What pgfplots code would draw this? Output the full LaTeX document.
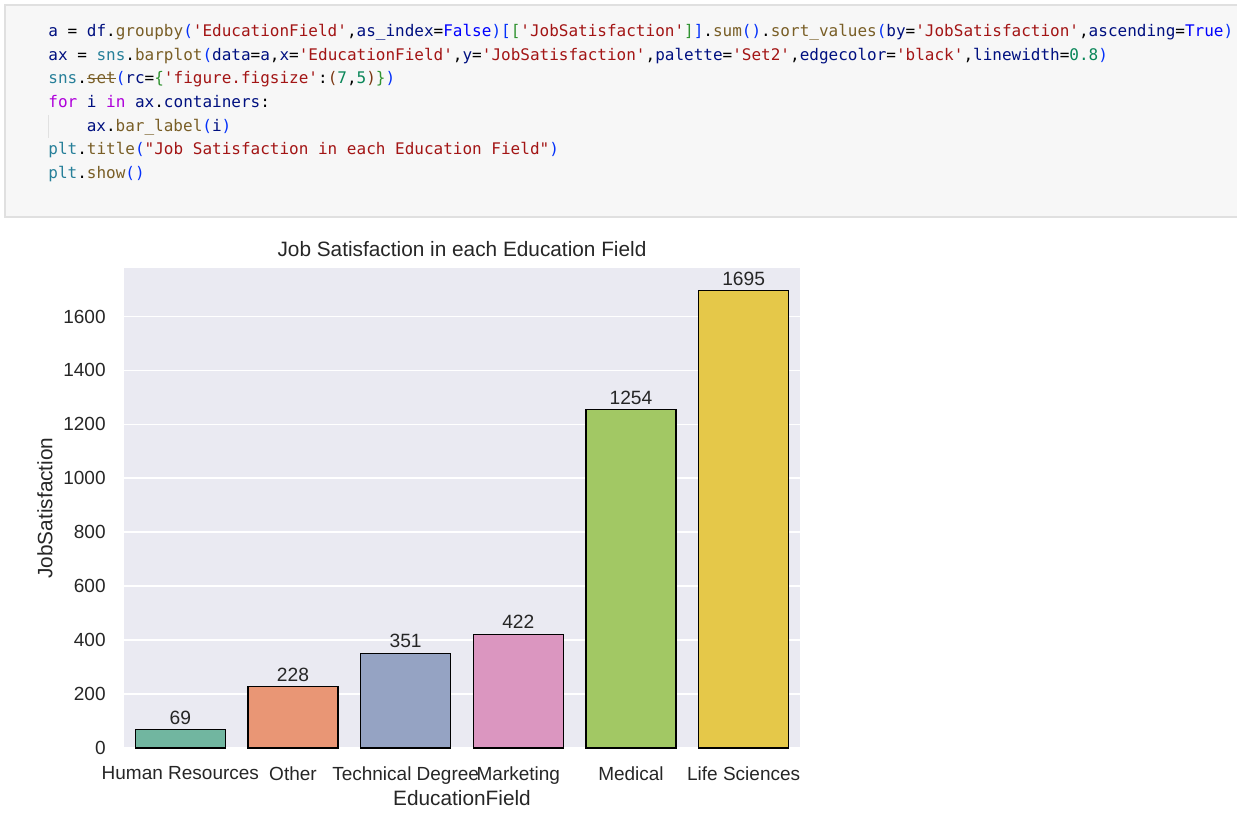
\documentclass[border=0pt]{standalone}
\usepackage{fontspec}
\setmainfont{Liberation Sans}
\setmonofont{DejaVu Sans Mono}
\usepackage{pgfplots}
\pgfplotsset{compat=1.18}
\definecolor{cfn}{HTML}{795E26}
\definecolor{cvar}{HTML}{001080}
\definecolor{cstr}{HTML}{A31515}
\definecolor{ckw}{HTML}{AF00DB}
\definecolor{cconst}{HTML}{0000FF}
\definecolor{cnum}{HTML}{098658}
\definecolor{ccls}{HTML}{267F99}
\definecolor{bA}{HTML}{0431FA}
\definecolor{bB}{HTML}{319331}
\definecolor{bC}{HTML}{7B3814}
\definecolor{codebg}{HTML}{F7F7F7}
\definecolor{codeborder}{HTML}{E0E0E0}
\definecolor{bgc}{HTML}{EAEAF2}
\definecolor{tc}{HTML}{262626}
\definecolor{c1}{HTML}{71B6A0}
\definecolor{c2}{HTML}{E99675}
\definecolor{c3}{HTML}{95A3C3}
\definecolor{c4}{HTML}{DB96C0}
\definecolor{c5}{HTML}{A2C864}
\definecolor{c6}{HTML}{E5C849}
\newcommand\V[1]{\textcolor{cvar}{#1}}
\newcommand\F[1]{\textcolor{cfn}{#1}}
\newcommand\Sg[1]{\textcolor{cstr}{#1}}
\newcommand\K[1]{\textcolor{ckw}{#1}}
\newcommand\T[1]{\textcolor{cconst}{#1}}
\newcommand\N[1]{\textcolor{cnum}{#1}}
\newcommand\C[1]{\textcolor{ccls}{#1}}
\newcommand\BA[1]{\textcolor{bA}{#1}}
\newcommand\BB[1]{\textcolor{bB}{#1}}
\newcommand\BC[1]{\textcolor{bC}{#1}}
\newcommand\strike[1]{\setbox0\hbox{#1}\rlap{\textcolor{cfn}{\rule[0.28em]{\wd0}{0.5pt}}}\box0}
\begin{document}
\begin{tikzpicture}
\useasboundingbox (0,0) rectangle (618.5pt,-407.5pt);
% code cell
\fill[codebg] (2.5pt,-2.5pt) rectangle (625pt,-108.5pt);
\draw[codeborder, line width=0.6pt] (625pt,-2.5pt) -- (2.5pt,-2.5pt) -- (2.5pt,-108.5pt) -- (625pt,-108.5pt);
\draw[codeborder!80!black!40, line width=0.5pt] (24pt,-57.5pt) -- (24pt,-69pt);
\begin{scope}[every node/.style={anchor=base west, inner sep=0pt, font=\ttfamily\fontsize{8pt}{9.6pt}\selectfont}]
\node at (24pt,-18.3pt) {\V{a} = \V{df}.\F{groupby}\BA{(}\Sg{'EducationField'},\V{as\_index}=\T{False}\BA{)}\BA{[}\BB{[}\Sg{'JobSatisfaction'}\BB{]}\BA{]}.\F{sum}\BA{()}.\F{sort\_values}\BA{(}\V{by}=\Sg{'JobSatisfaction'},\V{ascending}=\T{True}\BA{)}};
\node at (24pt,-30.1pt) {\V{ax} = \C{sns}.\F{barplot}\BA{(}\V{data}=\V{a},\V{x}=\Sg{'EducationField'},\V{y}=\Sg{'JobSatisfaction'},\V{palette}=\Sg{'Set2'},\V{edgecolor}=\Sg{'black'},\V{linewidth}=\N{0.8}\BA{)}};
\node at (24pt,-41.9pt) {\C{sns}.\strike{\F{set}}\BA{(}\V{rc}=\BB{\{}\Sg{'figure.figsize'}:\BC{(}\N{7},\N{5}\BC{)}\BB{\}}\BA{)}};
\node at (24pt,-53.7pt) {\K{for} \V{i} \K{in} \V{ax}.\V{containers}:};
\node at (43.2pt,-65.5pt) {\V{ax}.\F{bar\_label}\BA{(}\V{i}\BA{)}};
\node at (24pt,-77.3pt) {\C{plt}.\F{title}\BA{(}\Sg{"Job Satisfaction in each Education Field"}\BA{)}};
\node at (24pt,-89.1pt) {\C{plt}.\F{show}\BA{()}};
\end{scope}
% chart
\begin{axis}[
  at={(62pt,-374pt)}, anchor=south west,
  width=338pt, height=240pt, scale only axis,
  xmin=-0.5, xmax=5.5, ymin=0, ymax=1779.75,
  axis background/.style={fill=bgc},
  axis line style={draw=none},
  tick style={draw=none},
  major tick length=0pt,
  ymajorgrids, grid style={white, line width=0.87pt},
  ytick={0,200,...,1600},
  xtick={0,1,2,3,4,5},
  xticklabels={Human Resources,Other,Technical Degree,Marketing,Medical,Life Sciences},
  tick label style={font=\fontsize{9.5pt}{11pt}\selectfont, text=tc, inner sep=0pt},
  yticklabel style={anchor=east, xshift=-9pt},
  xticklabel style={anchor=north, yshift=-9pt},
  /pgf/number format/assume math mode=true,
  /pgf/number format/1000 sep={},
  ybar, bar width=0.8, bar shift=0pt,
  nodes near coords,
  every node near coord/.style={font=\fontsize{9.6pt}{11pt}\selectfont, text=tc, inner sep=0pt, anchor=south, yshift=2.3pt},
  title={Job Satisfaction in each Education Field},
  title style={at={(0.5,1.024)}, anchor=base, yshift=-6pt, inner sep=0pt, font=\fontsize{10.4pt}{12pt}\selectfont, text=tc},
  xlabel={EducationField},
  xlabel style={at={(0.5,-0.1188)}, anchor=base, inner sep=0pt, font=\fontsize{10.4pt}{12pt}\selectfont, text=tc},
  ylabel={JobSatisfaction},
  ylabel style={at={(-0.1169,0.5)}, anchor=center, inner sep=0pt, font=\fontsize{10.4pt}{12pt}\selectfont, text=tc},
]
\addplot[fill=c1, draw=black, line width=0.6pt] coordinates {(0,69)};
\addplot[fill=c2, draw=black, line width=0.6pt] coordinates {(1,228)};
\addplot[fill=c3, draw=black, line width=0.6pt] coordinates {(2,351)};
\addplot[fill=c4, draw=black, line width=0.6pt] coordinates {(3,422)};
\addplot[fill=c5, draw=black, line width=0.6pt] coordinates {(4,1254)};
\addplot[fill=c6, draw=black, line width=0.6pt] coordinates {(5,1695)};
\end{axis}
\end{tikzpicture}
\end{document}
